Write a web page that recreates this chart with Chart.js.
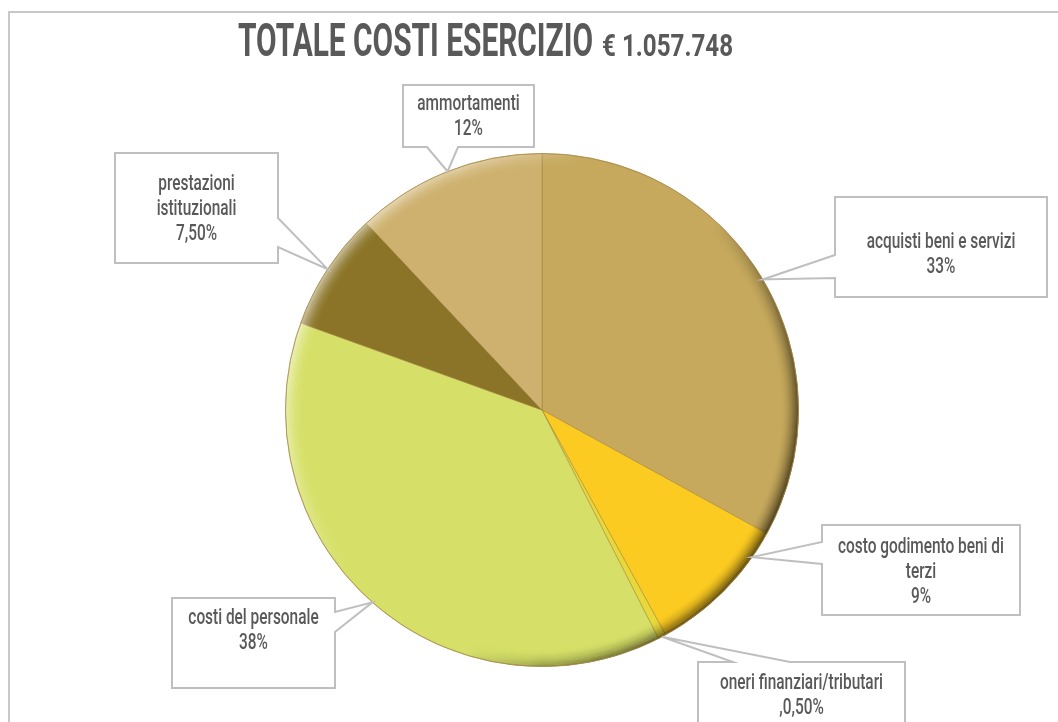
<!DOCTYPE html>
<html>
<head>
<meta charset="utf-8">
<script src="https://cdn.jsdelivr.net/npm/chart.js@4/dist/chart.umd.min.js"></script>
<style>
  html, body { margin: 0; padding: 0; background: #fff; }
  #wrap { width: 1058px; height: 722px; position: relative; }
</style>
</head>
<body>
<div id="wrap"><canvas id="costi" width="1058" height="722"></canvas></div>
<script>
// Data
const categories = ['acquisti beni e servizi', 'costo godimento beni di terzi', 'oneri finanziari/tributari',
                    'costi del personale', 'prestazioni istituzionali', 'ammortamenti'];
const values = [33, 9, 0.5, 38, 7.5, 12];
const pctLabels = ['33%', '9%', ',0,50%', '38%', '7,50%', '12%'];
// how each category name wraps inside its callout
const labelLines = [
  ['acquisti beni e servizi'],
  ['costo godimento beni di', 'terzi'],
  ['oneri finanziari/tributari'],
  ['costi del personale'],
  ['prestazioni', 'istituzionali'],
  ['ammortamenti']
];
const titleText = 'TOTALE COSTI ESERCIZIO';
const totalText = '€ 1.057.748';

const sliceColors = ['#C6A95D', '#FCCB21', '#E9D83A', '#D6E068', '#8B7427', '#CEB16E'];

// Callout boxes: [x, y, w, h], side of the pointer, pointer base along that side, first text line y
const callouts = [
  { box: [835, 197, 212, 100], side: 'left',   base: [255, 278], textY: 242, shift: 0 },
  { box: [822, 525, 198, 90],  side: 'left',   base: [542, 564], textY: 547, shift: -10 },
  { box: [698, 662, 207, 80],  side: 'top',    base: [733, 790], textY: 683, shift: 0 },
  { box: [172, 598, 163, 90],  side: 'right',  base: [612, 632], textY: 618, shift: 0 },
  { box: [115, 153, 163, 110], side: 'right',  base: [218, 247], textY: 184, shift: 0 },
  { box: [403, 85, 131, 62],   side: 'bottom', base: [427, 458], textY: 104, shift: 0 }
];

const TEXT_COLOR = '#595959';
const BOX_COLOR = '#BFBFBF';

// draw text squeezed horizontally (stand-in for a condensed face)
function condensedText(ctx, text, x, y, sx) {
  ctx.save();
  ctx.translate(x, y);
  ctx.scale(sx, 1);
  ctx.fillText(text, 0, 0);
  ctx.restore();
}

const frame = {
  id: 'frame',
  beforeDraw(chart) {
    const ctx = chart.ctx;
    ctx.save();
    ctx.strokeStyle = '#C8C8C8';
    ctx.lineWidth = 2;
    ctx.beginPath();
    ctx.moveTo(9, 722);
    ctx.lineTo(9, 12);
    ctx.lineTo(1058, 12);
    ctx.stroke();

    // title
    ctx.fillStyle = TEXT_COLOR;
    ctx.textBaseline = 'alphabetic';
    ctx.textAlign = 'left';
    ctx.font = 'bold 46px Roboto';
    let w = ctx.measureText(titleText).width;
    condensedText(ctx, titleText, 238, 56, 355 / w);
    ctx.font = 'bold 31px Roboto';
    w = ctx.measureText(totalText).width;
    condensedText(ctx, totalText, 602, 56, 131 / w);
    ctx.restore();
  }
};

const bevel = {
  id: 'bevel',
  afterDatasetsDraw(chart) {
    const arc = chart.getDatasetMeta(0).data[0];
    const { x, y, outerRadius: r } = arc;
    const ctx = chart.ctx;
    ctx.save();
    const W = 18;
    for (let i = 0; i < W; i++) {
      const t = 1 - i / W;
      const a = t * t;
      const g = ctx.createLinearGradient(x - r, y - r * 0.7, x + r, y + r * 0.45);
      g.addColorStop(0, `rgba(255,255,255,${0.65 * a})`);
      g.addColorStop(0.38, 'rgba(255,255,255,0)');
      g.addColorStop(0.62, 'rgba(0,0,0,0)');
      g.addColorStop(1, `rgba(40,30,10,${0.75 * a})`);
      ctx.strokeStyle = g;
      ctx.lineWidth = 1.3;
      ctx.beginPath();
      ctx.arc(x, y, r - i - 0.5, 0, Math.PI * 2);
      ctx.stroke();
    }
    ctx.strokeStyle = 'rgba(170,140,70,0.8)';
    ctx.lineWidth = 1;
    ctx.beginPath();
    ctx.arc(x, y, r, 0, Math.PI * 2);
    ctx.stroke();
    ctx.restore();
  }
};

const calloutPlugin = {
  id: 'callouts',
  afterDraw(chart) {
    const ctx = chart.ctx;
    const arcs = chart.getDatasetMeta(0).data;
    ctx.save();
    callouts.forEach((c, i) => {
      const a = arcs[i];
      const mid = (a.startAngle + a.endAngle) / 2 + c.shift * Math.PI / 180;
      const tx = a.x + Math.cos(mid) * a.outerRadius;
      const ty = a.y + Math.sin(mid) * a.outerRadius;
      const [bx, by, bw, bh] = c.box;
      const [b1, b2] = c.base;
      const pts = [[bx, by]];
      if (c.side === 'top') pts.push([b1, by], [tx, ty], [b2, by]);
      pts.push([bx + bw, by]);
      if (c.side === 'right') pts.push([bx + bw, b1], [tx, ty], [bx + bw, b2]);
      pts.push([bx + bw, by + bh]);
      if (c.side === 'bottom') pts.push([b2, by + bh], [tx, ty], [b1, by + bh]);
      pts.push([bx, by + bh]);
      if (c.side === 'left') pts.push([bx, b2], [tx, ty], [bx, b1]);

      ctx.beginPath();
      pts.forEach((p, k) => k ? ctx.lineTo(p[0], p[1]) : ctx.moveTo(p[0], p[1]));
      ctx.closePath();
      ctx.fillStyle = '#fff';
      ctx.fill();
      ctx.strokeStyle = BOX_COLOR;
      ctx.lineWidth = 2;
      ctx.lineJoin = 'miter';
      ctx.stroke();

      const lines = [...labelLines[i], pctLabels[i]];
      ctx.fillStyle = TEXT_COLOR;
      ctx.font = '500 22px Roboto';
      ctx.textAlign = 'center';
      ctx.textBaseline = 'middle';
      lines.forEach((ln, k) => condensedText(ctx, ln, bx + bw / 2, c.textY + k * 25, 0.7));
    });
    ctx.restore();
  }
};

new Chart(document.getElementById('costi'), {
  type: 'pie',
  data: {
    labels: categories,
    datasets: [{
      data: values,
      backgroundColor: sliceColors,
      borderColor: 'rgba(150,120,50,0.45)',
      borderWidth: 1
    }]
  },
  options: {
    responsive: false,
    animation: false,
    layout: { padding: { left: 285, right: 259, top: 153, bottom: 55 } },
    plugins: {
      legend: { display: false },
      tooltip: { enabled: false }
    }
  },
  plugins: [frame, bevel, calloutPlugin]
});
</script>
</body>
</html>
